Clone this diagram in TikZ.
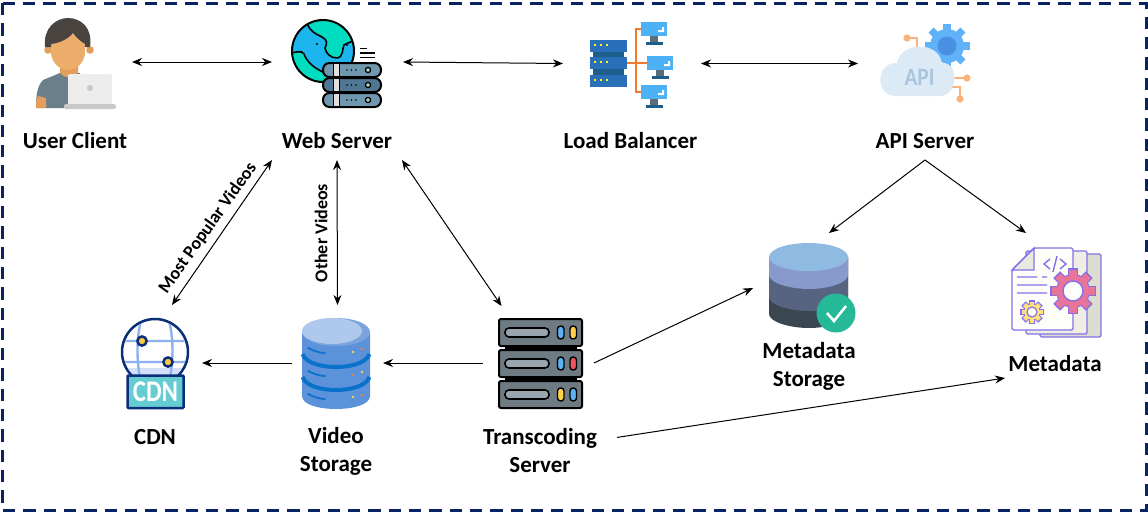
\documentclass[tikz,border=0pt]{standalone}
\usepackage{fontspec}
\setmainfont{Carlito}
\usetikzlibrary{arrows.meta}

\definecolor{framenavy}{HTML}{0A2463}
\definecolor{shirtgrey}{HTML}{6B7F8A}
\definecolor{skindark}{HTML}{E39E5C}
\definecolor{skinlight}{HTML}{ECAD6A}
\definecolor{hairbrown}{HTML}{4A4440}
\definecolor{laptoplight}{HTML}{EDEDED}
\definecolor{laptopbase}{HTML}{C9C9C9}
\definecolor{seablue}{HTML}{1CB5EE}
\definecolor{landgreen}{HTML}{00DCC0}
\definecolor{webrack}{HTML}{6F97AD}
\definecolor{webrackdark}{HTML}{4F7793}
\definecolor{webstrip}{HTML}{E4DEDC}
\definecolor{webled}{HTML}{A9D3C4}
\definecolor{lbblue}{HTML}{2A70B8}
\definecolor{lbdark}{HTML}{1D5F8A}
\definecolor{lbscreen}{HTML}{4DB2F5}
\definecolor{lbstand}{HTML}{5B6E7C}
\definecolor{wireorange}{HTML}{F37A2C}
\definecolor{apiwire}{HTML}{FBB27A}
\definecolor{apigear}{HTML}{5FB2F7}
\definecolor{apihub}{HTML}{4A90E2}
\definecolor{apicloud}{HTML}{DCEAF6}
\definecolor{apitext}{HTML}{A9C5E0}
\definecolor{cdnnavy}{HTML}{0B2E78}
\definecolor{cdngrid}{HTML}{8FB0F0}
\definecolor{cdnshade}{HTML}{D3DFF8}
\definecolor{cdnpin}{HTML}{FFC93C}
\definecolor{cdnteal}{HTML}{65CDD2}
\definecolor{diskblue}{HTML}{5B92DA}
\definecolor{diskband}{HTML}{0B72CC}
\definecolor{disktop}{HTML}{AEC9EC}
\definecolor{diskrim}{HTML}{7BA3DE}
\definecolor{dotyellow}{HTML}{FFD34D}
\definecolor{dotorange}{HTML}{F47F3C}
\definecolor{rackgrey}{HTML}{6F7B83}
\definecolor{rackslot}{HTML}{98A4AE}
\definecolor{ledblue}{HTML}{5DB1F0}
\definecolor{ledyellow}{HTML}{FFD04A}
\definecolor{ledred}{HTML}{EF5261}
\definecolor{layerone}{HTML}{8FBBE2}
\definecolor{layertwo}{HTML}{8899CC}
\definecolor{layerthree}{HTML}{566381}
\definecolor{layerfour}{HTML}{3A4750}
\definecolor{checkgreen}{HTML}{25B998}
\definecolor{pagepurple}{HTML}{8670E8}
\definecolor{pageback}{HTML}{DCDCD0}
\definecolor{pagemid}{HTML}{EEEEE4}
\definecolor{pagefront}{HTML}{FDFDFA}
\definecolor{pagefold}{HTML}{E9E9DF}
\definecolor{gearpink}{HTML}{E8749A}
\definecolor{gearyellow}{HTML}{FFE27A}

\tikzset{
  labeltext/.style={font=\bfseries\fontsize{23}{28}\selectfont, align=center, inner sep=0pt, outer sep=0pt},
  sidetext/.style={font=\bfseries\fontsize{18}{20}\selectfont, inner sep=0pt},
  iconbox/.style 2 args={minimum width=#1, minimum height=#2, inner sep=0pt, outer sep=0pt},
  bothway/.style={line width=1, {Stealth[length=10pt,width=8pt]}-{Stealth[length=10pt,width=8pt]}},
  oneway/.style={line width=1, -{Stealth[length=10pt,width=8pt]}},
}

\newcommand{\cogwheel}[6]{
  \foreach \a in {0,45,...,315}
    \fill[#6, shift={(#1,#2)}, rotate=\a] (-#4,#3-1) rectangle (#4,#3+#5);
  \fill[#6] (#1,#2) circle[radius=#3];
}

\begin{document}
\begin{tikzpicture}[x=1pt, y=-1pt]

\useasboundingbox (0,0) rectangle (1148,512);

\draw[framenavy, line width=3, dash pattern=on 12.3pt off 8pt]
  (2.5,3) rectangle (1146,510);

\node[iconbox={108pt}{90pt}] (userIcon) at (78,62) {};
\node[iconbox={131pt}{90pt}] (webIcon) at (337.5,62) {};
\node[iconbox={138pt}{90pt}] (lbIcon) at (632,63.5) {};
\node[iconbox={134pt}{90pt}] (apiIcon) at (925,63.5) {};
\node[iconbox={60pt}{116pt}] (cdnIcon) at (172,363) {};
\node[iconbox={91pt}{116pt}] (videoIcon) at (337.5,363) {};
\node[iconbox={111pt}{114pt}] (transIcon) at (538.5,363) {};
\node[iconbox={152pt}{110pt}] (mstoreIcon) at (829,288) {};
\node[iconbox={60pt}{110pt}] (mdataIcon) at (1026,288) {};

\node[labeltext] (userLabel) at (75,141) {User Client};
\node[labeltext, minimum width=130pt, minimum height=38pt] (webLabel) at (337,141) {Web Server};
\node[labeltext] (lbLabel) at (630.5,141) {Load Balancer};
\node[labeltext, minimum height=38pt] (apiLabel) at (925,141) {API Server};
\node[labeltext] (cdnLabel) at (155,437) {CDN};
\node[labeltext] (videoLabel) at (336,451) {Video\\Storage};
\node[labeltext, minimum width=154pt] (transLabel) at (540,451) {Transcoding\\Server};
\node[labeltext] (mstoreLabel) at (809,366) {Metadata\\Storage};
\node[labeltext, minimum width=100pt, minimum height=28pt] (mdataLabel) at (1055,364) {Metadata};

\node[sidetext, rotate=54.5] (popularText) at (208,228) {Most Popular Videos};
\node[sidetext, rotate=90] (otherText) at (321,233) {Other Videos};

\draw[bothway]
  (userIcon.east) -- (webIcon.west);
\draw[bothway]
  (webIcon.east) -- (lbIcon.west);
\draw[bothway]
  (lbIcon.east) -- (apiIcon.west);
\draw[bothway]
  (webLabel.south west) -- (cdnIcon.north);
\draw[bothway]
  (webLabel.south) -- (videoIcon.north);
\draw[bothway]
  (webLabel.south east) -- (transIcon.123.3);
\draw[oneway]
  (apiLabel.south) -- (mstoreIcon.north);
\draw[oneway]
  (apiLabel.south) -- (mdataIcon.north);
\draw[oneway]
  (videoIcon.west) -- (cdnIcon.east);
\draw[oneway]
  (transIcon.west) -- (videoIcon.east);
\draw[oneway]
  (transIcon.east) -- (mstoreIcon.west);
\draw[oneway]
  (transLabel.10.3) -- (mdataLabel.south west);

\fill[shirtgrey] (36,108)
  .. controls (36,96) and (37,86) .. (43,80)
  -- (60,73) -- (80,73) -- (80,108) -- cycle;
\fill[skindark] (36,108) .. controls (36,104) and (36,100) .. (38,96) -- (46,98) -- (46,108) -- cycle;
\fill[skindark] (60,60) -- (78,60) -- (78,73) .. controls (72,79) and (66,79) .. (60,73) -- cycle;
\fill[skindark] (48,50) circle[radius=3.8];
\fill[skindark] (90,50) circle[radius=3.8];
\fill[skinlight] (51,34) -- (85,34) -- (85,52)
  .. controls (85,62) and (77,70) .. (68,70)
  .. controls (59,70) and (51,62) .. (51,52) -- cycle;
\fill[hairbrown] (45,47)
  .. controls (43,28) and (56,18) .. (68,18)
  .. controls (81,18) and (93,28) .. (90,47)
  -- (85,47) -- (85,44)
  .. controls (80,41) and (76,37) .. (73,33)
  .. controls (68,39) and (60,43) .. (51,44)
  -- (51,47) -- cycle;
\fill[laptoplight, rounded corners=1.5] (68,74) rectangle (112,105);
\fill[laptopbase, rounded corners=1.5] (64,104) rectangle (116,109);
\fill[laptopbase] (90,88) circle[radius=3];

\begin{scope}
\clip (323,51) circle[radius=31];
\fill[seablue] (323,51) circle[radius=31];
\draw[fill=landgreen, line width=1.6] (307,20)
  .. controls (307,30) and (316,34) .. (322,37)
  .. controls (328,40) and (327,44) .. (325,48)
  .. controls (326,54) and (331,58) .. (337,58)
  .. controls (344,57) and (342,48) .. (344,45)
  .. controls (347,43) and (352,42) .. (356,39)
  -- (356,15) -- cycle;
\draw[fill=landgreen, line width=1.6] (288,54)
  .. controls (295,52) and (302,50) .. (304,54)
  .. controls (307,62) and (314,68) .. (323,72)
  .. controls (327,74) and (330,76) .. (332,80)
  -- (332,90) -- (288,90) -- cycle;
\fill (317,44) circle[radius=1.2];
\fill (347,45) circle[radius=1.2];
\end{scope}
\draw[line width=2] (323,51) circle[radius=31];
\draw[line width=1.2]
  (360,48.5) -- (367,48.5)
  (360,53) -- (375,53)
  (360,57.5) -- (375,57.5);
\foreach \rowy/\rowcol in {63/webrack,78/webrackdark,93/webrack} {
  \begin{scope}[shift={(0,\rowy)}]
  \draw[fill=\rowcol, line width=2, rounded corners=6.5]
    (323,0) rectangle (381,14);
  \fill[webstrip] (333,.8) rectangle (339.5,13.2);
  \draw[line width=1] (333,0) -- (333,14) (339.5,0) -- (339.5,14);
  \foreach \dotx in {347,351.5,356}
    \fill (\dotx,7) circle[radius=.9];
  \draw[line width=1.3, fill=webled] (368,7) circle[radius=2.6];
  \end{scope}
}

\fill[lbdark] (593,40) rectangle (624,86);
\foreach \rowy/\rowh in {40/12,57/12,75/11.5} {
  \begin{scope}[shift={(0,\rowy)}]
  \fill[lbblue] (590,0) rectangle (627,\rowh);
  \foreach \dotx in {595,601,607}
    \fill[yellow!90!white] (\dotx-1,4) rectangle (\dotx+1,6);
  \end{scope}
}
\draw[wireorange, line width=2.4]
  (627,63) -- (654,63)
  (642,29) -- (636,29) -- (636,92) -- (642,92);
\foreach \scrx/\scry in {641/22,647/56,641/85} {
  \begin{scope}[shift={(\scrx,\scry)}]
  \fill[lbscreen] (0,0) rectangle (26,14);
  \fill[white] (21,5) -- (23,5) -- (23,10) -- (17,10) -- (17,8) -- (21,8) -- cycle;
  \fill[lbstand] (9,14) rectangle (17,20);
  \fill[lbdark] (5,20) rectangle (22,22.5);
  \end{scope}
}

\draw[apiwire, line width=2]
  (907,38) -- (917,38) -- (917,48)
  (954,78) -- (967,78)
  (952,87) -- (960,87) -- (960,99);
\fill[apiwire] (907,38) circle[radius=3.6];
\fill[apiwire] (967,78) circle[radius=3.6];
\fill[apiwire] (960,99) circle[radius=3.6];
\cogwheel{947}{46}{17}{3.6}{5.5}{apigear}
\fill[apihub] (947,46) circle[radius=9.5];
\fill[apicloud] (896,96)
  .. controls (874,96) and (876,62) .. (897,63)
  .. controls (900,42) and (938,40) .. (942,63)
  .. controls (960,62) and (958,96) .. (940,96)
  -- cycle;
\node[font=\bfseries\fontsize{25}{25}\selectfont, text=apitext, inner sep=0pt] (apiGlyph) at (919.5,77) {\scalebox{.85}[1]{API}};

\draw[cdnnavy, line width=2.5, fill=white] (155,352) circle[radius=33];
\begin{scope}
\clip (155,352) circle[radius=31.5];
\fill[cdnshade] (120,368) rectangle (190,386);
\draw[cdngrid, line width=2.4]
  (120,341) -- (190,341)
  (120,362) -- (190,362)
  (142,318) .. controls (136,335) and (136,365) .. (142,386)
  (168,318) .. controls (174,335) and (174,365) .. (168,386);
\end{scope}
\foreach \pinx/\piny in {142/341,168/362}
  \draw[cdnnavy, line width=2.5, fill=cdnpin] (\pinx,\piny) circle[radius=4.6];
\draw[cdnnavy, line width=2.5, fill=cdnteal, rounded corners=.8] (127.5,375.5) rectangle (183.5,408);
\node[font=\bfseries\fontsize{30}{30}\selectfont, text=white, inner sep=0pt] (cdnGlyph) at (155.5,391.5) {\scalebox{.83}[1]{CDN}};

\fill[diskblue] (302,332) -- (302,396)
  .. controls (302,405) and (320,409) .. (336,409)
  .. controls (352,409) and (370,405) .. (370,396)
  -- (370,332) -- cycle;
\foreach \rowy in {0,23} {
  \begin{scope}[shift={(0,\rowy)}]
  \draw[diskband, line width=4]
    (302.5,354)
    .. controls (306,364) and (324,367) .. (336,367)
    .. controls (348,367) and (366,364) .. (369.5,354);
  \end{scope}
}
\foreach \rowy in {0,23,46} {
  \begin{scope}[shift={(0,\rowy)}]
  \draw[diskband, line width=1.8, line cap=round]
    (308,348) .. controls (314,351) and (320,353) .. (325,353);
  \end{scope}
}
\fill[dotyellow] (353,352) circle[radius=1.3];
\fill[dotorange] (362,349) circle[radius=1.3];
\fill[dotorange] (353,375) circle[radius=1.3];
\fill[dotyellow] (362,372) circle[radius=1.3];
\fill[dotyellow] (353,397) circle[radius=1.3];
\fill[dotorange] (362,395) circle[radius=1.3];
\fill[diskrim] (336,332) ellipse[x radius=34, y radius=14];
\fill[disktop] (332,331) ellipse[x radius=30, y radius=13];

\fill (505,345) rectangle (577,352);
\fill (505,376) rectangle (577,383);
\foreach \rowy/\ledb/\ledc in {319/ledblue/ledyellow,350/ledblue/ledred,381/ledyellow/ledblue} {
  \begin{scope}[shift={(0,\rowy)}]
  \draw[fill=rackgrey, line width=2, rounded corners=2]
    (499,0) rectangle (582,27);
  \draw[fill=rackslot, line width=1.6, rounded corners=4]
    (505,9) rectangle (549,18);
  \draw[fill=\ledb, line width=1.4, rounded corners=3]
    (557.5,7) rectangle (564,20);
  \draw[fill=\ledc, line width=1.4, rounded corners=3]
    (570,7) rectangle (576.5,20);
  \end{scope}
}

\fill[layerfour] (769,257) -- (769,314)
  .. controls (769,322) and (790,328) .. (809,328)
  .. controls (828,328) and (848,322) .. (848,314)
  -- (848,257) -- cycle;
\fill[layerthree] (769,257) -- (769,297)
  .. controls (769,305) and (790,311) .. (809,311)
  .. controls (828,311) and (848,305) .. (848,297)
  -- (848,257) -- cycle;
\fill[layertwo] (769,257) -- (769,275)
  .. controls (769,283) and (790,289) .. (809,289)
  .. controls (828,289) and (848,283) .. (848,275)
  -- (848,257) -- cycle;
\fill[layerone] (808.5,257) ellipse[x radius=39.5, y radius=14];
\fill[checkgreen] (836,313) circle[radius=19.5];
\draw[white, line width=2.6]
  (827,313) -- (834,321) -- (846,306);

\foreach \pagex/\pagey/\pagecol in {1040/254/pageback,1026/251/pagemid} {
  \begin{scope}[shift={(\pagex,\pagey)}]
  \draw[pagepurple, line width=1.4, fill=\pagecol, rounded corners=1.5]
    (0,0) rectangle (61,83);
  \end{scope}
}
\draw[pagepurple, line width=1.4, fill=pagefront, rounded corners=1.5] (1034,248)
  -- (1073,248) -- (1073,330) -- (1012,330) -- (1012,270) -- cycle;
\draw[pagepurple, line width=1.4, fill=pagefold] (1034,248)
  -- (1034,270) -- (1012,270) -- cycle;
\draw[pagepurple, line width=1.4]
  (1017,277) -- (1037,277) (1042,277) -- (1047,277)
  (1017,285) -- (1047,285)
  (1017,293) -- (1047,293)
  (1050,259) -- (1044,264) -- (1050,269)
  (1060,259) -- (1066,264) -- (1060,269)
  (1057,256) -- (1053,272);
\cogwheel{1073}{291}{17}{4.8}{6}{pagepurple}
\cogwheel{1073}{291}{16}{3.6}{5.5}{gearpink}
\draw[pagepurple, line width=1.4, fill=pagefront] (1073,291) circle[radius=10];
\cogwheel{1032}{312}{8.5}{3.2}{3.5}{pagepurple}
\cogwheel{1032}{312}{7.5}{2.2}{3}{gearyellow}
\draw[pagepurple, line width=1.2, fill=white] (1032,312) circle[radius=5];

\end{tikzpicture}
\end{document}
